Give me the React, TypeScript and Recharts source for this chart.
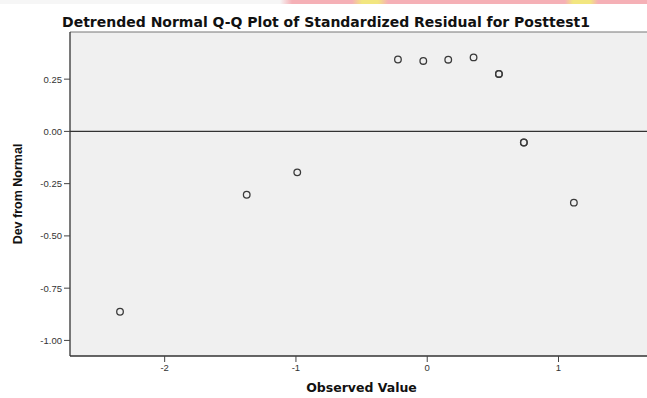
import { ScatterChart, Scatter, XAxis, YAxis, CartesianGrid, ReferenceLine, Label } from "recharts"

const observed = [-2.34, -1.375, -0.99, -0.223, -0.03, 0.16, 0.353, 0.546, 0.546, 0.736, 0.736, 1.117]
const devFromNormal = [-0.863, -0.303, -0.196, 0.344, 0.337, 0.343, 0.354, 0.275, 0.275, -0.053, -0.053, -0.341]
const xTicks = [-2, -1, 0, 1]
const yTicks = [-1, -0.75, -0.5, -0.25, 0, 0.25]

const points = observed.map((x, i) => ({ x, y: devFromNormal[i] }))

const X_DOMAIN: [number, number] = [-2.721, 1.674]
const Y_DOMAIN: [number, number] = [-1.0746, 0.4756]

function Ring(props: any) {
  const { cx, cy } = props
  if (cx == null || cy == null) return null
  return <circle cx={cx} cy={cy} r={3.3} fill="none" stroke="#3a3a3a" strokeWidth={1.3} />
}

const tickStyle = { fontSize: 9.5, fill: "#333", fontFamily: "Liberation Sans, Arial, sans-serif" }

export default function App() {
  return (
    <div style={{ position: "absolute", left: 0, top: 0, width: 647, height: 398, background: "#fff", overflow: "hidden" }}>
      <div
        style={{
          position: "absolute",
          left: 0,
          top: 0,
          width: 647,
          height: 4,
          background:
            "linear-gradient(to right, #f6f6f6 0px, #f6f6f6 280px, #f5b0b6 292px, #f5b0b6 352px, #f2e680 362px, #f2e680 378px, #f5b0b6 388px, #f5b0b6 565px, #f2e680 573px, #f2e680 590px, #f5b0b6 598px)",
        }}
      />
      <div
        style={{
          position: "absolute",
          left: 60,
          top: 14,
          width: 532,
          textAlign: "center",
          whiteSpace: "nowrap",
          fontFamily: "DejaVu Sans, sans-serif",
          fontWeight: "bold",
          fontSize: 14,
          color: "#111",
          lineHeight: "16px",
        }}
      >
        Detrended Normal Q-Q Plot of Standardized Residual for Posttest1
      </div>
      <ScatterChart width={647} height={398} margin={{ top: 32, right: 0, bottom: 0, left: 0 }}>
        <CartesianGrid horizontal={false} vertical={false} fill="#f0f0f0" />
        <XAxis
          type="number"
          dataKey="x"
          domain={X_DOMAIN}
          ticks={xTicks}
          allowDataOverflow
          height={42}
          tick={tickStyle}
          tickLine={{ stroke: "#444" }}
          tickSize={6}
          axisLine={{ stroke: "#333", strokeWidth: 1.3 }}
        >
          <Label
            value="Observed Value"
            position="insideBottom"
            offset={6}
            dx={3}
            style={{ fontSize: 12.5, fontWeight: "bold", fill: "#111", fontFamily: "DejaVu Sans, sans-serif" }}
          />
        </XAxis>
        <YAxis
          type="number"
          dataKey="y"
          domain={Y_DOMAIN}
          ticks={yTicks}
          allowDataOverflow
          width={70}
          tick={tickStyle}
          tickFormatter={(v: number) => v.toFixed(2)}
          tickLine={{ stroke: "#444" }}
          tickSize={6}
          axisLine={{ stroke: "#333", strokeWidth: 1.3 }}
        >
          <Label
            value="Dev from Normal"
            angle={-90}
            position="insideLeft"
            offset={18}
            style={{ textAnchor: "middle", fontSize: 12.5, fontWeight: "bold", fill: "#111", fontFamily: "Liberation Sans, Arial, sans-serif" }}
          />
        </YAxis>
        <ReferenceLine y={Y_DOMAIN[1]} stroke="#777" strokeWidth={1} />
        <ReferenceLine y={0} stroke="#333" strokeWidth={1.3} />
        <Scatter data={points} shape={<Ring />} isAnimationActive={false} />
      </ScatterChart>
    </div>
  )
}
